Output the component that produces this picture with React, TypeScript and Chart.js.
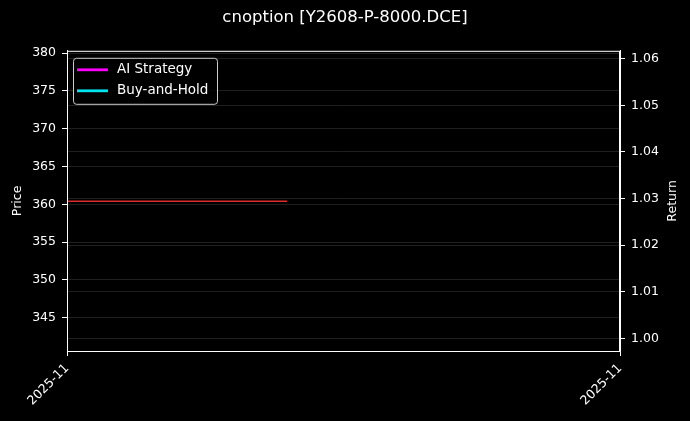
import { useEffect, useRef } from 'react';
import Chart from 'chart.js/auto';
import type { ChartConfiguration, Plugin } from 'chart.js';
import React from 'react';

const TITLE = 'cnoption [Y2608-P-8000.DCE]';
const RIGHT_TITLE = 'Return';
const dateLabels = ['2025-11', '2025-11'];
const xTicks = [0, 1];
const priceTicks = [345, 350, 355, 360, 365, 370, 375, 380];
const returnTicks = [1.0, 1.01, 1.02, 1.03, 1.04, 1.05, 1.06];

// price line (left axis)
const priceX = [0, 0.1, 0.2, 0.3, 0.398];
const priceY = [360.4, 360.4, 360.4, 360.4, 360.4];

// return series (right axis) - no visible points
const aiStrategy: { x: number; y: number }[] = [];
const buyAndHold: { x: number; y: number }[] = [];

const FONT = "'DejaVu Sans', sans-serif";

const frame: Plugin = {
  id: 'frame',
  afterDatasetsDraw(chart) {
    const { ctx, chartArea } = chart;
    ctx.save();
    ctx.strokeStyle = '#ffffff';
    ctx.lineWidth = 1;
    ctx.strokeRect(chartArea.left + 0.5, chartArea.top + 0.5, chartArea.right - chartArea.left - 1, chartArea.bottom - chartArea.top);
    ctx.restore();
  },
};

// matplotlib-style right label, reads bottom to top
const rightTitle: Plugin = {
  id: 'rightTitle',
  afterDraw(chart) {
    const { ctx, chartArea } = chart;
    ctx.save();
    ctx.translate(673, (chartArea.top + chartArea.bottom) / 2);
    ctx.rotate(-Math.PI / 2);
    ctx.font = `12.5px ${FONT}`;
    ctx.fillStyle = '#ffffff';
    ctx.textAlign = 'center';
    ctx.textBaseline = 'middle';
    ctx.fillText(RIGHT_TITLE, 0, 0);
    ctx.restore();
  },
};

const boxLegend: Plugin = {
  id: 'boxLegend',
  afterDraw(chart) {
    const { ctx, chartArea } = chart;
    const items = chart.data.datasets.filter((d: any) => d.showInLegend);
    const x = chartArea.left + 6;
    const y = chartArea.top + 7;
    const w = 144;
    const h = 46;
    ctx.save();
    ctx.fillStyle = 'rgba(0,0,0,0.8)';
    ctx.strokeStyle = '#cccccc';
    ctx.lineWidth = 1;
    ctx.beginPath();
    ctx.roundRect(x + 0.5, y + 0.5, w, h, 3);
    ctx.fill();
    ctx.stroke();
    ctx.font = `13.5px ${FONT}`;
    ctx.textBaseline = 'middle';
    items.forEach((d: any, i: number) => {
      const ly = y + 12 + i * 21;
      ctx.strokeStyle = d.borderColor;
      ctx.lineWidth = 2.8;
      ctx.beginPath();
      ctx.moveTo(x + 4, ly);
      ctx.lineTo(x + 35, ly);
      ctx.stroke();
      ctx.fillStyle = '#ffffff';
      ctx.fillText(d.label, x + 44, ly);
    });
    ctx.restore();
  },
};

const bg: Plugin = {
  id: 'bg',
  beforeDraw(chart) {
    const { ctx } = chart;
    ctx.save();
    ctx.fillStyle = '#000000';
    ctx.fillRect(0, 0, chart.width, chart.height);
    ctx.restore();
  },
};

const App = () => {
  const canvasRef = useRef<HTMLCanvasElement>(null);

  useEffect(() => {
    document.body.style.margin = '0';
    document.body.style.background = '#000';
    if (!canvasRef.current) {
      return;
    }

    const gridCommon = {
      color: 'rgba(150,150,150,0.35)',
      lineWidth: 0.6,
      borderDash: [2, 1.5],
      tickColor: '#ffffff',
      tickLength: 5,
      tickBorderDash: [],
      tickWidth: 1,
    };

    const tickFont = { family: FONT, size: 12.5 };

    const config: ChartConfiguration<'line'> = {
      type: 'line',
      data: {
        datasets: [
          {
            label: 'Price',
            data: priceX.map((x, i) => ({ x, y: priceY[i] })),
            borderColor: '#dc2a2a',
            borderWidth: 1.4,
            pointRadius: 0,
            yAxisID: 'y',
          },
          {
            label: 'AI Strategy',
            data: aiStrategy,
            borderColor: '#ff00ff',
            borderWidth: 2,
            pointRadius: 0,
            yAxisID: 'y1',
            showInLegend: true,
          } as any,
          {
            label: 'Buy-and-Hold',
            data: buyAndHold,
            borderColor: '#00e5ee',
            borderWidth: 2,
            pointRadius: 0,
            yAxisID: 'y1',
            showInLegend: true,
          } as any,
        ],
      },
      options: {
        animation: false,
        responsive: false,
        maintainAspectRatio: false,
        layout: { padding: 0 },
        plugins: {
          legend: { display: false },
          tooltip: { enabled: false },
          title: {
            display: true,
            text: TITLE,
            color: '#ffffff',
            font: { family: FONT, size: 16.5, weight: 'normal', lineHeight: 1.2 },
            padding: { top: 8, bottom: 23 },
          },
        },
        scales: {
          x: {
            type: 'linear',
            min: 0,
            max: 1,
            afterBuildTicks: (axis) => {
              axis.ticks = xTicks.map((v) => ({ value: v }));
            },
            afterFit: (axis) => {
              axis.height = 70;
            },
            ticks: {
              color: '#ffffff',
              font: tickFont,
              minRotation: 45,
              maxRotation: 45,
              padding: 5,
              callback: (_v, i) => dateLabels[i],
            },
            grid: { ...gridCommon, drawOnChartArea: false },
            border: { color: '#ffffff', width: 1 },
          },
          y: {
            position: 'left',
            min: 340.6,
            max: 380.3,
            afterBuildTicks: (axis) => {
              axis.ticks = priceTicks.map((v) => ({ value: v }));
            },
            afterFit: (axis) => {
              axis.width = 67;
            },
            ticks: {
              color: '#ffffff',
              font: tickFont,
              padding: 6,
            },
            title: {
              display: true,
              text: 'Price',
              color: '#ffffff',
              font: tickFont,
              padding: { top: 10.5, bottom: 0 },
            },
            grid: gridCommon,
            border: { color: '#ffffff', width: 1 },
          },
          y1: {
            position: 'right',
            min: 0.9973,
            max: 1.0617,
            afterBuildTicks: (axis) => {
              axis.ticks = returnTicks.map((v) => ({ value: v }));
            },
            afterFit: (axis) => {
              axis.width = 70;
            },
            ticks: {
              color: '#ffffff',
              font: tickFont,
              padding: 6,
              callback: (v) => Number(v).toFixed(2),
            },
            grid: gridCommon,
            border: { color: '#ffffff', width: 1 },
          },
        },
      },
      plugins: [bg, frame, rightTitle, boxLegend],
    };

    const chart = new Chart(canvasRef.current, config);

    return () => {
      chart.destroy();
    };
  }, []);

  return (
    <div style={{ width: 690, height: 421, background: '#000' }}>
      <canvas ref={canvasRef} width={690} height={421} style={{ width: 690, height: 421 }} />
    </div>
  );
};

export default App;
